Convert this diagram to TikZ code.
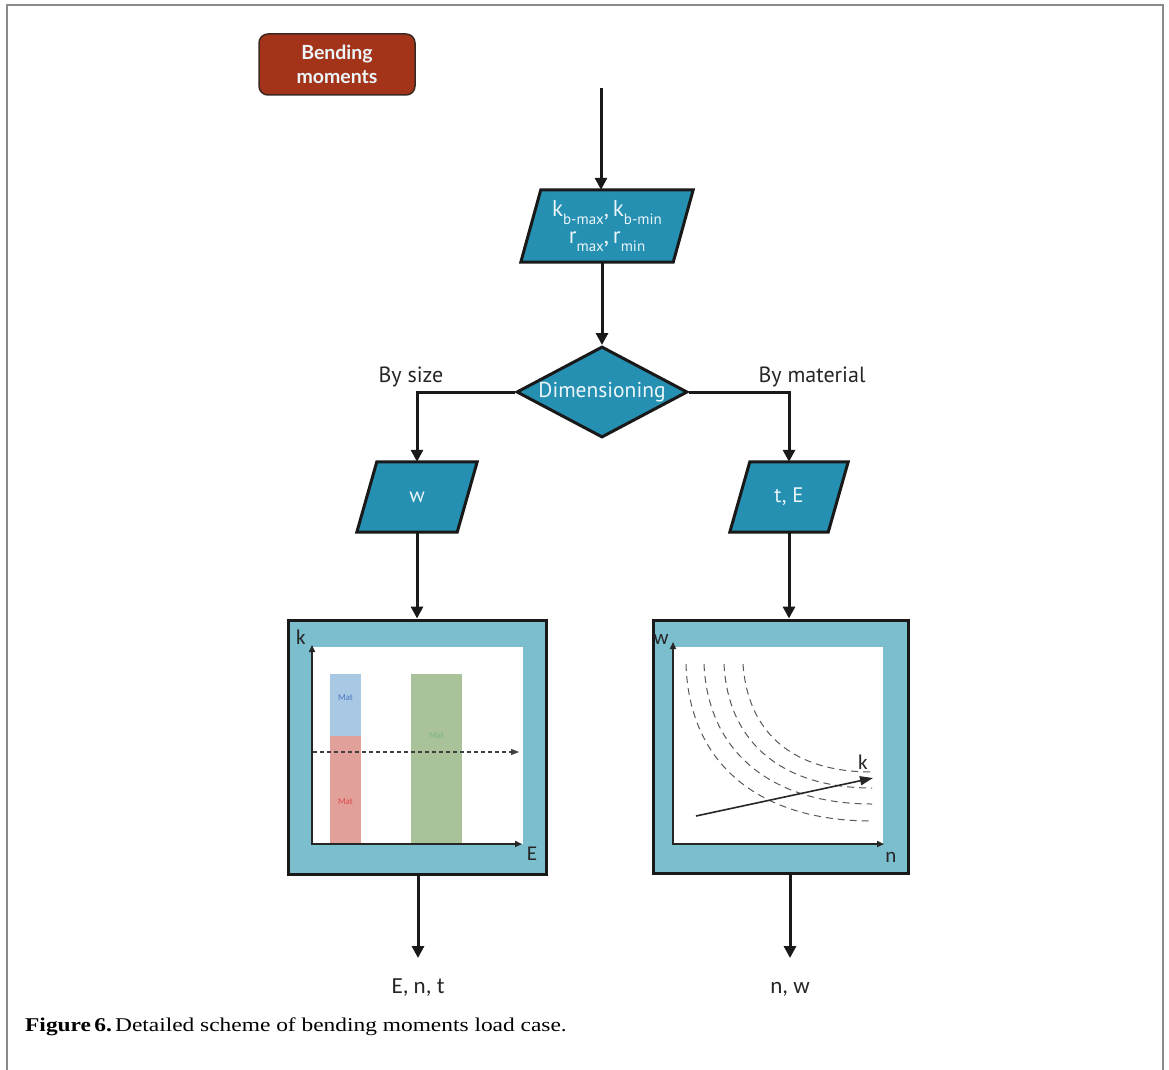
\documentclass[tikz,border=0pt]{standalone}
\usepackage{fontspec}
\setmainfont{PT Sans}
\newfontfamily\calib{Carlito}
\newfontfamily\capfont[FakeStretch=1.2]{Liberation Serif}
\newfontfamily\latob{Lato}
\usetikzlibrary{arrows.meta,shapes.geometric,backgrounds}
\definecolor{tealA}{RGB}{37,144,177}
\definecolor{boxA}{RGB}{123,190,206}
\definecolor{rust}{RGB}{163,52,26}
\definecolor{rustedge}{RGB}{60,40,34}
\definecolor{edgeA}{RGB}{25,25,25}
\definecolor{frameA}{RGB}{138,138,138}
\definecolor{barblue}{RGB}{168,200,228}
\definecolor{barred}{RGB}{226,160,154}
\definecolor{bargreen}{RGB}{169,194,154}
\definecolor{txblue}{RGB}{74,120,192}
\definecolor{txred}{RGB}{224,72,72}
\definecolor{txgreen}{RGB}{122,184,122}
\definecolor{lighttext}{RGB}{236,246,250}
\newcommand\sbx[1]{\raisebox{-0.36em}{\fontsize{15}{15}\selectfont #1}}
\tikzset{
  arr/.style={line width=3pt, draw=edgeA, -{Triangle[length=12pt,width=12pt]}},
  titlebox/.style={rectangle, rounded corners=9pt, fill=rust, draw=rustedge, line width=1.5pt,
    minimum width=156pt, minimum height=61pt, inner sep=0pt, align=center,
    text=lighttext, font=\latob\bfseries\fontsize{19.5}{24}\selectfont},
  paratext/.style={rectangle, minimum height=70pt, inner sep=0pt, align=center,
    text=lighttext, font=\fontsize{21}{24}\selectfont},
  parashape/.style={fill=tealA, draw=edgeA, line width=3pt, line join=miter},
  dimnode/.style={diamond, aspect=1.88, fill=tealA, draw=edgeA, line width=3pt,
    minimum width=171pt, minimum height=91pt, inner sep=0pt,
    text=lighttext, font=\fontsize{21.5}{24}\selectfont},
  chartbox/.style={rectangle, fill=boxA, draw=edgeA, line width=3pt, inner sep=0pt},
  lbl/.style={font=\fontsize{22}{26}\selectfont, text=black!85},
  outlbl/.style={font=\calib\fontsize{23}{27}\selectfont, text=black!85, inner sep=0pt,
    text height=15pt, text depth=0pt, outer ysep=20pt, anchor=base},
  axis/.style={line width=1.6pt, draw=black!85, -{Triangle[length=7pt,width=6pt]}},
  axlbl/.style={font=\calib\fontsize{21}{24}\selectfont, text=black!85, inner sep=0pt},
  matlbl/.style={font=\calib\fontsize{9}{10}\selectfont, inner sep=0pt},
  curve/.style={draw=black!65, line width=1pt, dash pattern=on 7pt off 5pt}
}
\begin{document}
\begin{tikzpicture}[x=1pt,y=-1pt]
\useasboundingbox (0,0) rectangle (1169,1070);
\begin{scope}[on background layer]
  \fill[white] (0,0) rectangle (1169,1070);
\end{scope}
\draw[frameA, line width=2pt] (6.5,1070) -- (6.5,5.5) -- (1162.5,5.5) -- (1162.5,1070);

% title
\node[titlebox] (title) at (337,64.5) {Bending\\moments};

% top input
\coordinate (start) at (601,88);
\node[paratext, minimum width=152pt, minimum height=72pt, font=\fontsize{23}{24}\selectfont] (p1) at (607,226)
  {k\sbx{b-max},\,k\sbx{b-min}\\[3pt]
   r\sbx{max},\,r\sbx{min}};
\begin{scope}[on background layer]
  \draw[parashape] ([xshift=10pt]p1.north west) -- ([xshift=10pt]p1.north east)
    -- ([xshift=-10pt]p1.south east) -- ([xshift=-10pt]p1.south west) -- cycle;
\end{scope}
\draw[arr] (start) -- (start |- p1.north);

% decision
\node[dimnode] (dim) at (602,392) {Dimensioning};
\draw[arr] (p1.south -| dim.north) -- (dim.north);

% branch inputs
\node[paratext, minimum width=100pt] (pw) at (417,497) {w};
\node[paratext, minimum width=98pt] (pte) at (789,497) {t, E};
\begin{scope}[on background layer]
  \draw[parashape] ([xshift=10pt]pw.north west) -- ([xshift=10pt]pw.north east)
    -- ([xshift=-10pt]pw.south east) -- ([xshift=-10pt]pw.south west) -- cycle;
  \draw[parashape] ([xshift=10pt]pte.north west) -- ([xshift=10pt]pte.north east)
    -- ([xshift=-10pt]pte.south east) -- ([xshift=-10pt]pte.south west) -- cycle;
\end{scope}
\draw[arr] (dim.west) -| node[pos=0.5, lbl, anchor=south, xshift=-6pt, yshift=0pt] {By size} (pw.north);
\draw[arr] (dim.east) -| node[pos=0.5, lbl, anchor=south, xshift=23pt, yshift=0pt] {By material} (pte.north);

% chart boxes
\node[chartbox, minimum width=258pt, minimum height=254pt] (cl) at (417,747) {};
\node[chartbox, minimum width=255pt, minimum height=253pt] (cr) at (780.5,746.5) {};
\draw[arr] (pw.south) -- (pw.south |- cl.north);
\draw[arr] (pte.south) -- (pte.south |- cr.north);

% left chart
\fill[white] (313,647) rectangle (523,844);
\fill[barblue] (330,674) rectangle (361,736);
\fill[barred] (330,736) rectangle (361,844);
\fill[bargreen] (411,674) rectangle (462,844);
\node[matlbl, text=txblue] at (345.5,698) {Mat};
\node[matlbl, text=txred] at (345.5,802) {Mat};
\node[matlbl, text=txgreen] at (436.5,736) {Mat};
\draw[line width=1.1pt, draw=black!75, dash pattern=on 4pt off 3pt, -{Triangle[length=8pt,width=6pt]}] (313,752) -- (519,752);
\draw[axis] (312,845) -- (312,645);
\draw[axis] (311,844) -- (522,844);
\node[axlbl, anchor=center] at (301,637) {k};
\node[axlbl, anchor=center] at (532,854) {E};

% right chart
\fill[white] (673,647) rectangle (883,844);
\draw[curve] (686,664) .. controls (689,765) and (760,821) .. (872,821);
\draw[curve] (704,664) .. controls (708,755) and (775,804) .. (872,804);
\draw[curve] (724,664) .. controls (728,745) and (785,788) .. (872,788);
\draw[curve] (743,664) .. controls (748,735) and (795,772) .. (872,772);
\draw[line width=1.6pt, draw=black!85, -{Triangle[length=13pt,width=9pt]}] (696,816) -- (873,778);
\node[axlbl, anchor=center] at (863,762) {k};
\draw[axis] (673,845) -- (673,642);
\draw[axis] (672,844) -- (884,844);
\node[axlbl, anchor=center] at (661,639) {w};
\node[axlbl, anchor=center] at (891,857) {n};

% outputs
\node[outlbl] (o1) at (418,993) {E, n, t};
\node[outlbl] (o2) at (790,993) {n, w};
\draw[arr] (cl.south -| o1) -- (o1.north);
\draw[arr] (cr.south -| o2) -- (o2.north);

% caption
\node[anchor=base west, inner sep=0pt, font=\capfont\fontsize{19.5}{22}\selectfont] (cap) at (25,1031)
  {\textbf{Figure\,6.}\,Detailed scheme of bending moments load case.};
\end{tikzpicture}
\end{document}
